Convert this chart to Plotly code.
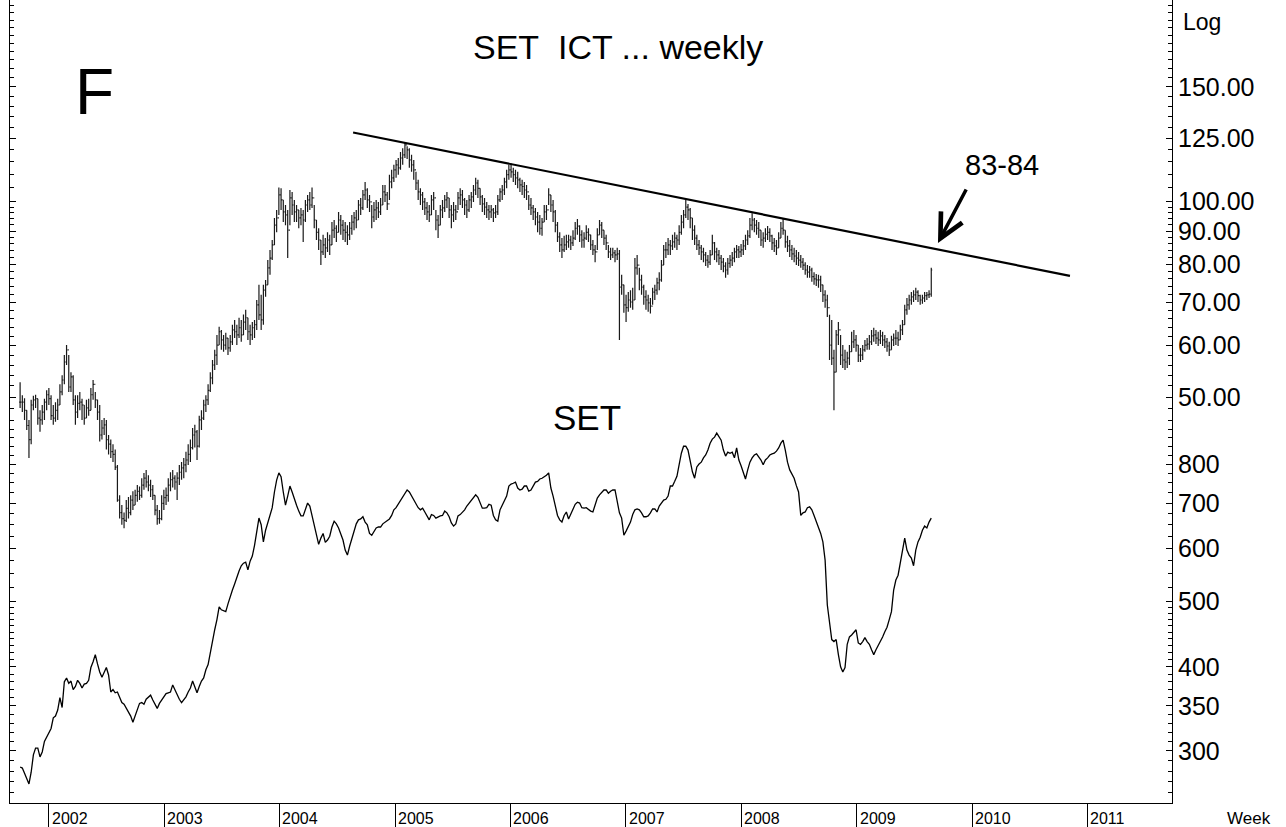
import pandas as pd
import plotly.graph_objects as go

# ---------------- data (weekly) ----------------
first_week = "2001-10-02"

ict_high = [
    52.7, 50.3, 49.8, 47.7, 46.1, 49.5, 50.2, 50.4, 49.7, 47.7, 48.6, 49.7, 51.2,
    51.6, 50.3, 48.6, 49.1, 49.7, 52.3, 54.0, 58.0, 60.1, 58.0, 54.6, 54.0, 50.3, 50.3, 50.9, 49.7, 48.6, 49.5, 49.7, 51.6, 53.1, 50.9, 49.5, 48.6,
    46.1, 46.4, 46.1, 43.7, 43.0, 42.3, 41.5, 39.3, 35.3, 34.1, 33.2, 34.7, 35.1, 35.3, 35.8, 36.0, 36.6, 36.4, 37.5, 38.2, 38.6, 37.9, 37.3, 36.6, 35.3, 34.1, 33.5,
    35.3, 36.0, 36.3, 37.5, 38.3, 38.6, 37.9, 38.3, 39.3, 39.7, 40.3, 41.2, 42.3, 43.0, 44.8, 45.3, 44.5, 46.8, 47.7, 49.5, 50.3, 52.3, 54.6, 57.0, 59.1, 62.3, 64.1,
    63.4, 62.3, 62.8, 61.6, 62.3, 64.6, 65.7, 64.6, 66.2, 65.7, 67.0, 68.1, 66.2, 64.6, 65.2, 65.7, 70.5, 74.4, 71.8, 74.4, 75.7, 81.2, 84.2, 87.2, 94.3, 97.0, 105.0,
    104.7, 100.5, 98.7, 97.0, 104.1, 103.4, 100.5, 98.7, 97.0, 97.7, 97.0, 100.5, 102.3, 103.4, 105.0, 98.7, 93.6, 90.9, 87.2, 88.8, 87.8, 89.6, 88.8, 92.9, 93.6, 91.9, 96.3, 95.3, 93.6,
    92.9, 91.9, 92.9, 95.3, 96.3, 97.0, 100.5, 101.2, 104.1, 107.1, 104.7, 102.3, 98.7, 99.8, 100.5, 99.8, 101.2, 106.0, 106.0, 103.4, 109.9, 111.8, 113.8, 115.8, 116.6, 119.1, 120.7, 123.0, 121.5, 120.7,
    117.9, 115.8, 111.0, 107.9, 104.7, 103.4, 101.2, 99.8, 98.7, 102.3, 103.4, 97.0, 95.3, 98.7, 100.5, 102.3, 103.4, 101.2, 98.7, 99.8, 98.7, 103.4, 104.7, 104.1, 101.2, 100.5, 102.3, 103.4, 106.0, 108.7, 107.9, 104.7, 102.3, 101.2, 99.8, 98.7, 98.7, 97.7, 98.7, 102.3, 104.7,
    106.0, 108.7, 111.8, 113.8, 114.3, 112.6, 111.8, 111.0, 108.7, 107.9, 107.1, 106.0, 102.3, 101.2, 98.7, 97.7, 96.3, 95.3, 94.3, 98.7, 98.7, 104.7, 102.3, 100.5, 97.0, 92.9, 89.6, 87.8, 88.5, 88.8, 88.8, 88.5, 90.3, 92.9, 93.9, 91.9, 90.3, 89.6, 91.9, 90.9, 88.8, 87.2, 85.7, 90.9, 93.6, 92.9, 90.3, 88.8, 85.7, 84.8, 84.8, 84.2, 84.8, 84.2,
    77.1, 74.4, 71.8, 72.5, 73.0, 73.6, 81.8, 82.7, 79.0, 77.1, 74.4, 73.0, 71.8, 71.0, 73.6, 74.4, 76.3, 77.8, 81.2, 85.7, 86.6, 87.8, 87.2, 88.8, 89.6, 88.8, 91.9, 95.3, 97.0, 100.5, 99.1, 97.7, 94.3, 91.9, 88.8, 87.2,
    85.7, 84.8, 83.6, 82.7, 84.2, 88.8, 86.6, 84.8, 84.2, 82.7, 81.8, 80.6, 81.8, 82.7, 83.6, 84.8, 85.7, 85.4, 86.0, 87.2, 88.8, 90.3, 94.3, 95.9, 94.3, 93.6, 92.9, 90.3, 89.6, 90.9, 91.6, 90.9, 88.8, 87.8, 87.2, 89.6, 92.9, 94.0, 90.3, 88.5, 87.2, 85.7, 84.8, 84.2, 83.6, 82.7, 81.8, 80.6, 79.8, 79.5, 79.0, 77.8, 77.3, 77.1, 76.8, 74.4, 73.0, 71.8, 66.9,
    65.7, 59.1, 63.4, 65.2, 62.3, 60.1, 59.1, 58.7, 60.1, 63.0, 63.4, 62.3, 60.1, 59.5, 60.1, 61.2, 61.6, 62.3, 63.4, 63.9, 63.4, 63.0, 63.4, 63.0, 62.3, 61.6, 60.8, 62.1, 62.6, 63.4, 63.0, 64.6, 65.7, 69.3, 71.0, 71.8, 72.5, 73.0, 73.6, 73.0, 71.8, 71.8, 72.5, 72.5, 73.0, 79.0,
]

ict_low = [
    48.1, 47.4, 46.1, 44.5, 40.3, 42.3, 47.7, 48.1, 45.3, 44.2, 45.3, 46.1, 47.7,
    48.6, 46.1, 45.3, 45.8, 46.1, 48.6, 50.3, 52.3, 56.0, 50.9, 50.9, 48.6, 45.3, 46.4, 47.7, 46.1, 45.3, 46.4, 46.8, 47.7, 49.5, 48.1, 46.1, 42.7,
    43.0, 43.7, 41.5, 40.8, 40.3, 39.7, 38.6, 34.5, 32.5, 31.8, 31.4, 32.1, 32.5, 32.9, 33.5, 34.1, 34.5, 34.7, 35.0, 36.0, 36.3, 35.8, 35.1, 34.7, 32.9, 31.8, 31.9,
    32.3, 33.5, 34.1, 34.5, 35.8, 36.3, 36.0, 34.7, 36.6, 37.3, 37.5, 38.3, 39.3, 39.7, 41.5, 41.8, 40.0, 41.8, 44.5, 46.1, 47.4, 48.6, 50.9, 52.3, 55.0, 56.0, 60.1,
    59.1, 58.7, 59.1, 58.0, 58.7, 60.1, 61.6, 60.1, 61.6, 60.8, 62.3, 63.4, 61.2, 60.1, 61.2, 61.6, 63.4, 65.7, 63.4, 64.6, 71.3, 74.4, 77.1, 81.2, 85.7, 89.6, 95.3,
    97.0, 92.9, 91.9, 81.8, 91.9, 95.3, 92.9, 92.9, 90.9, 91.9, 86.6, 92.9, 96.3, 97.0, 97.7, 90.9, 87.2, 84.2, 79.8, 82.7, 81.8, 83.6, 82.7, 85.7, 87.8, 86.6, 89.6, 88.8, 87.2,
    86.6, 85.7, 87.2, 88.8, 90.3, 90.9, 93.6, 95.3, 97.0, 100.5, 97.7, 96.3, 90.9, 92.9, 93.6, 94.3, 95.3, 98.7, 99.8, 97.0, 100.5, 104.7, 107.1, 108.7, 109.9, 111.8, 113.8, 116.6, 116.2, 112.6,
    111.0, 107.9, 104.1, 100.5, 98.7, 97.0, 95.3, 93.6, 92.9, 95.3, 97.0, 90.3, 87.8, 91.9, 94.3, 96.3, 97.7, 94.3, 90.9, 92.9, 93.6, 97.0, 98.7, 97.7, 95.3, 94.3, 96.3, 97.7, 99.8, 102.3, 101.2, 98.7, 96.3, 95.3, 94.3, 93.6, 94.3, 92.9, 94.3, 95.3, 99.8,
    100.5, 102.3, 104.7, 107.9, 108.7, 107.1, 106.0, 104.7, 103.4, 102.3, 101.2, 100.5, 97.0, 95.3, 93.6, 91.9, 89.6, 88.8, 88.5, 92.9, 93.6, 98.7, 96.3, 92.9, 89.6, 86.6, 83.6, 81.8, 83.6, 84.2, 84.8, 84.2, 85.4, 87.2, 88.8, 86.6, 84.8, 84.8, 87.2, 86.6, 84.2, 82.7, 80.6, 84.2, 88.8, 87.8, 85.7, 84.2, 81.8, 81.2, 81.8, 80.6, 81.2, 61.2,
    71.8, 67.4, 65.2, 67.6, 68.6, 68.1, 70.5, 77.1, 73.0, 71.8, 69.3, 68.1, 67.6, 67.2, 69.3, 70.5, 71.8, 73.0, 75.2, 79.8, 81.8, 82.7, 82.7, 84.2, 84.8, 84.2, 85.7, 88.8, 90.9, 94.3, 93.6, 90.9, 87.2, 85.7, 84.2, 82.7,
    81.2, 80.6, 79.5, 79.0, 79.8, 82.7, 81.2, 80.6, 79.8, 78.4, 77.8, 76.3, 77.1, 79.0, 79.5, 80.6, 81.8, 81.8, 82.1, 82.7, 84.2, 85.7, 87.8, 90.3, 89.6, 88.8, 87.8, 85.4, 84.8, 86.6, 87.2, 86.6, 84.2, 83.6, 82.7, 84.8, 87.8, 88.8, 84.8, 83.6, 82.1, 81.2, 80.6, 79.8, 79.5, 79.0, 78.4, 77.1, 76.3, 76.3, 75.2, 74.4, 74.1, 73.6, 72.5, 70.0, 68.6, 66.4, 57.0,
    56.0, 47.7, 54.6, 60.1, 56.0, 55.4, 55.0, 55.4, 56.0, 58.7, 59.5, 58.7, 56.6, 56.6, 57.0, 58.7, 59.1, 59.1, 60.1, 60.8, 60.3, 59.9, 60.3, 59.9, 59.5, 58.7, 57.8, 59.1, 59.9, 60.1, 59.9, 61.2, 62.3, 64.6, 66.9, 68.1, 69.3, 70.0, 70.5, 70.0, 69.3, 69.6, 70.0, 70.5, 71.0, 71.3,
]

ict_close = [
    49.1, 49.1, 47.7, 45.2, 43.0, 48.6, 49.5, 49.7, 46.4, 46.1, 47.4, 49.1, 50.4,
    49.7, 46.8, 46.4, 47.7, 48.6, 50.9, 53.1, 56.6, 59.1, 51.8, 53.7, 49.5, 47.4, 48.9, 49.1, 48.6, 46.4, 48.1, 47.7, 50.4, 52.3, 49.5, 47.4, 43.7,
    44.8, 45.3, 43.0, 42.3, 41.2, 40.8, 39.0, 34.7, 33.2, 32.5, 32.3, 33.7, 33.2, 34.7, 34.1, 35.3, 35.8, 35.3, 36.6, 37.5, 37.0, 36.6, 36.0, 35.3, 33.5, 32.5, 32.5,
    34.3, 35.0, 35.3, 36.6, 37.3, 37.5, 37.0, 37.5, 38.3, 38.9, 39.3, 40.0, 40.8, 41.8, 43.7, 44.2, 42.0, 46.1, 46.4, 48.6, 49.5, 51.2, 53.5, 56.0, 58.0, 60.1, 63.0,
    61.2, 60.1, 61.6, 59.5, 60.8, 63.4, 63.0, 62.3, 63.9, 62.3, 65.2, 66.2, 63.0, 62.3, 63.9, 64.6, 69.3, 66.9, 65.7, 73.0, 74.4, 79.0, 81.8, 85.7, 91.9, 94.3, 102.3,
    100.5, 96.3, 95.3, 90.3, 101.2, 98.7, 96.3, 97.0, 94.3, 95.3, 93.6, 98.7, 100.5, 98.7, 101.2, 93.6, 89.6, 87.2, 83.6, 85.7, 84.8, 87.2, 85.7, 90.3, 90.9, 89.6, 93.6, 91.9, 90.3,
    89.6, 88.8, 90.9, 92.9, 94.3, 93.6, 98.7, 97.7, 102.3, 104.1, 100.5, 99.8, 94.6, 97.0, 97.7, 96.3, 98.7, 103.4, 102.3, 99.1, 107.1, 108.7, 111.8, 113.8, 112.6, 116.6, 117.9, 122.1, 120.0, 115.8,
    113.8, 111.8, 106.7, 103.4, 102.3, 99.8, 97.7, 96.3, 95.3, 100.5, 101.2, 93.6, 91.9, 97.0, 97.7, 100.5, 101.2, 97.0, 95.3, 97.0, 96.3, 101.2, 102.3, 100.5, 98.7, 97.0, 100.5, 101.6, 104.1, 106.7, 104.7, 101.6, 99.1, 98.0, 97.0, 96.3, 97.0, 96.0, 96.3, 100.5, 103.4,
    104.1, 107.1, 109.9, 111.8, 111.0, 109.9, 108.7, 107.9, 106.0, 105.4, 104.1, 103.4, 98.7, 97.7, 96.3, 94.6, 92.9, 90.9, 92.9, 96.3, 97.0, 102.3, 98.7, 96.3, 91.9, 88.2, 85.7, 84.2, 85.7, 86.6, 87.2, 86.3, 87.8, 90.9, 91.6, 88.8, 87.2, 87.8, 89.6, 88.8, 85.7, 84.2, 83.6, 88.8, 91.9, 90.3, 87.8, 86.3, 83.6, 82.7, 83.3, 82.7, 83.0, 73.8,
    74.4, 69.3, 68.6, 70.5, 70.0, 70.5, 79.0, 79.8, 75.7, 73.8, 71.3, 70.5, 69.8, 69.0, 72.5, 73.0, 74.9, 75.7, 79.8, 84.2, 84.2, 85.7, 85.4, 86.6, 87.8, 87.2, 89.6, 92.9, 95.3, 98.0, 97.0, 94.3, 90.3, 87.8, 85.7, 84.8,
    83.6, 82.7, 81.2, 80.6, 82.7, 86.3, 83.6, 82.7, 81.8, 80.6, 79.5, 78.4, 80.3, 81.2, 81.8, 83.6, 84.2, 83.6, 84.2, 85.4, 87.2, 88.5, 91.9, 93.6, 91.9, 90.9, 90.3, 87.2, 87.8, 89.0, 89.6, 88.5, 86.3, 85.4, 84.8, 87.8, 90.9, 90.3, 86.6, 85.4, 84.2, 83.0, 82.4, 81.8, 81.2, 80.6, 79.8, 78.4, 77.8, 78.4, 76.6, 76.0, 75.7, 75.7, 74.4, 71.8, 70.5, 68.6, 60.1,
    57.4, 54.6, 62.3, 63.4, 58.0, 57.0, 56.6, 57.4, 58.7, 60.8, 61.2, 60.1, 58.0, 58.0, 59.1, 60.1, 60.3, 60.8, 62.1, 62.3, 61.6, 61.2, 62.1, 61.2, 60.8, 59.9, 59.1, 61.2, 61.6, 61.6, 61.2, 63.4, 64.6, 68.1, 69.3, 70.5, 71.3, 71.8, 72.5, 71.6, 70.5, 71.0, 71.6, 71.8, 72.0, 78.4,
]

set_close = [
    284, 283, 278, 272, 268, 279, 296, 303, 303, 294, 299, 310, 315,
    319, 324, 336, 338, 345, 360, 348, 380, 385, 378, 381, 370, 374, 382, 378, 372, 377, 378, 382, 399, 407, 417, 404, 393,
    386, 393, 399, 389, 367, 370, 366, 367, 361, 354, 352, 347, 343, 338, 331, 338, 345, 353, 354, 352, 358, 361, 363, 357, 352, 347, 353,
    357, 361, 365, 366, 367, 376, 370, 363, 358, 354, 357, 361, 367, 372, 381, 374, 366, 374, 381, 385, 396, 403, 420, 439, 454, 470, 491,
    486, 485, 483, 496, 509, 520, 531, 544, 555, 565, 570, 572, 557, 574, 584, 606, 634, 665, 650, 613, 638, 654, 671, 689, 727, 757, 776,
    766, 727, 695, 717, 742, 727, 709, 695, 681, 670, 670, 684, 700, 693, 670, 652, 629, 608, 621, 631, 612, 617, 625, 645, 658, 652, 643, 631, 617,
    596, 586, 604, 621, 634, 652, 661, 663, 668, 656, 650, 631, 627, 636, 643, 645, 645, 652, 656, 661, 663, 671, 684, 689, 697, 707, 714, 724, 732, 727,
    717, 707, 695, 689, 684, 688, 679, 670, 661, 673, 671, 665, 668, 670, 671, 681, 677, 668, 654, 647, 652, 670, 673, 679, 684, 693, 700, 707, 712, 720, 714, 702, 688, 688, 689, 697, 695, 671, 661, 658, 684,
    695, 707, 717, 742, 747, 749, 752, 737, 732, 734, 742, 742, 729, 732, 742, 752, 754, 760, 762, 765, 770, 776, 737, 717, 693, 671, 661, 656, 671, 679, 663, 673, 684, 697, 702, 700, 689, 688, 689, 684, 681, 679, 697, 712, 720, 727, 732, 732, 724, 729, 732, 732, 707, 677,
    665, 627, 636, 647, 656, 673, 684, 686, 684, 677, 668, 668, 670, 677, 686, 686, 679, 693, 700, 707, 709, 717, 742, 742, 754, 767, 798, 830, 850, 850, 839, 811, 779, 762, 792, 800,
    805, 817, 825, 839, 859, 871, 877, 889, 880, 868, 839, 822, 833, 830, 833, 817, 845, 811, 795, 779, 760, 784, 805, 817, 825, 828, 819, 811, 798, 811, 817, 825, 828, 830, 836, 845, 859, 868, 839, 805, 784, 773, 762, 743, 727, 671, 677, 679, 689, 691, 684, 671, 658, 647, 631, 613, 576, 494, 462,
    439, 436, 439, 417, 400, 393, 399, 432, 443, 446, 451, 454, 434, 432, 436, 442, 436, 432, 424, 417, 424, 430, 436, 443, 451, 458, 470, 483, 520, 538, 547, 569, 596, 621, 596, 586, 580, 565, 596, 613, 623, 638, 647, 643, 656, 665,
]

# resistance trend line (dates, values)
trend_dates = ["2004-08-21", "2010-11-07"]
trend_values = [127.6, 76.8]

# axis ticks
ict_ticks = [50, 60, 70, 80, 90, 100, 125, 150]
ict_tick_text = ["50.00", "60.00", "70.00", "80.00", "90.00", "100.00", "125.00", "150.00"]
set_ticks = [300, 350, 400, 500, 600, 700, 800]
set_tick_text = ["300", "350", "400", "500", "600", "700", "800"]
year_labels = [2002, 2003, 2004, 2005, 2006, 2007, 2008, 2009, 2010, 2011]

assert len(ict_high) == len(ict_low) == len(ict_close) == len(set_close), (
    len(ict_high), len(ict_low), len(ict_close), len(set_close))

# ---------------- figure ----------------
dates = pd.date_range(first_week, periods=len(ict_close), freq="7D")
ict_open = [ict_close[0]] + ict_close[:-1]

FONT = "Liberation Sans, Arial, sans-serif"

fig = go.Figure()
fig.add_trace(go.Ohlc(
    x=dates, open=ict_open, high=ict_high, low=ict_low, close=ict_close,
    increasing=dict(line=dict(color="#1a1a1a", width=1.2)),
    decreasing=dict(line=dict(color="#1a1a1a", width=1.2)),
    tickwidth=0.45, xaxis="x", yaxis="y", hoverinfo="skip",
))
fig.add_trace(go.Scatter(
    x=trend_dates, y=trend_values, mode="lines",
    line=dict(color="black", width=2.2), xaxis="x", yaxis="y", hoverinfo="skip",
))
fig.add_trace(go.Scatter(
    x=dates, y=set_close, mode="lines",
    line=dict(color="black", width=1.3), xaxis="x", yaxis="y2", hoverinfo="skip",
))

ict_minor = [v for v in range(46, 100, 2)] + [v for v in range(100, 205, 5)]
set_minor = [v for v in range(260, 500, 10)] + [v for v in range(500, 925, 25)]

axis_common = dict(
    type="log", side="right", showgrid=False, zeroline=False,
    showline=True, linecolor="black", linewidth=1, mirror="ticks",
    ticks="inside", ticklen=6, tickcolor="black", tickwidth=1,
    tickfont=dict(family=FONT, size=25, color="black"),
)

fig.update_layout(
    width=1286, height=827,
    margin=dict(l=10, r=114, t=0, b=24),
    paper_bgcolor="white", plot_bgcolor="white",
    showlegend=False,
    xaxis=dict(
        type="date", range=["2001-08-31", "2011-09-26"],
        showgrid=False, zeroline=False, showline=True, linecolor="black", linewidth=1,
        ticks="outside", ticklen=24, tickcolor="black", tickwidth=1,
        tickvals=[f"{y}-01-01" for y in year_labels], showticklabels=False,
        rangeslider=dict(visible=False),
    ),
    yaxis=dict(
        range=[1.07435, 2.30974],
        tickvals=ict_ticks, ticktext=ict_tick_text,
        minor=dict(tickvals=ict_minor, ticklen=4, tickcolor="black", ticks="inside"),
        **axis_common,
    ),
    yaxis2=dict(
        range=[2.39990, 3.59182], overlaying="y", anchor="x",
        tickvals=set_ticks, ticktext=set_tick_text,
        minor=dict(tickvals=set_minor, ticklen=4, tickcolor="black", ticks="inside"),
        **axis_common,
    ),
)

annotations = []
for y in year_labels:
    annotations.append(dict(
        x=f"{y}-01-01", xref="x", y=0, yref="paper", yanchor="top", xanchor="left",
        xshift=1, yshift=-5, text=str(y), showarrow=False,
        font=dict(family=FONT, size=16, color="black"),
    ))

texts = [
    ("SET&nbsp;&nbsp;ICT ... weekly", 0.5232, 0.9415, 34),
    ("F", 0.0727, 0.8854, 64),
    ("SET", 0.4966, 0.4795, 35),
    ("83-84", 0.8537, 0.7945, 29),
    ("Log", 1.0258, 0.9726, 23),
    ("Week", 1.0663, -0.0187, 17),
]
for t, x, y, s in texts:
    annotations.append(dict(
        x=x, y=y, xref="paper", yref="paper", xanchor="center", yanchor="middle",
        text=t, showarrow=False, font=dict(family=FONT, size=s, color="black"),
    ))

annotations.append(dict(
    x=0.7986, y=0.6974, xref="paper", yref="paper", text="",
    showarrow=True, ax=29, ay=-55, arrowhead=5, arrowsize=1.35, arrowwidth=3.5,
    arrowcolor="black", standoff=0,
))

fig.update_layout(annotations=annotations)
fig.write_html("out.html")
